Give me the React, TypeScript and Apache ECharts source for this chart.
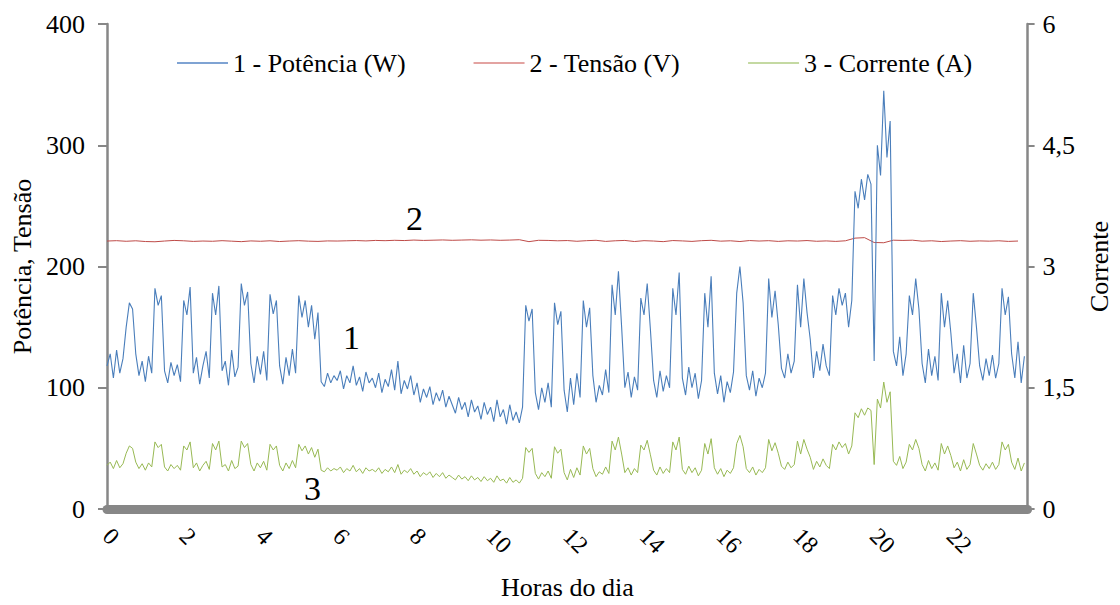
import React, { useEffect, useRef } from "react";
import * as echarts from "echarts";

// sampling intervals (hours)
const STEP_PC = 1 / 12; // power & current: every 5 min
const STEP_V = 0.25; // voltage: every 15 min

const hourTicks = [0, 2, 4, 6, 8, 10, 12, 14, 16, 18, 20, 22];
const leftTicks = [0, 100, 200, 300, 400];
const rightTicks = ["0", "1,5", "3", "4,5", "6"];

const seriesNames = ["1 - Potência (W)", "2 - Tensão (V)", "3 - Corrente (A)"];

// Potência (W)
const potencia = [
  118, 128, 108, 131, 112, 124, 150, 170, 165, 128, 110, 122,
  105, 126, 112, 182, 168, 176, 114, 104, 121, 110, 119, 105,
  172, 160, 183, 112, 125, 103, 118, 130, 108, 178, 160, 184,
  114, 122, 102, 131, 109, 117, 186, 168, 179, 120, 104, 126,
  111, 130, 106, 177, 161, 172, 118, 103, 125, 110, 132, 112,
  176, 158, 172, 150, 168, 140, 162, 105, 101, 112, 104, 110,
  106, 114, 99, 110, 104, 118, 102, 109, 97, 113, 104, 108,
  100, 112, 96, 107, 101, 115, 98, 122, 95, 106, 99, 110,
  94, 104, 88, 99, 92, 101, 86, 96, 89, 98, 84, 93,
  86, 79, 92, 82, 88, 76, 90, 80, 85, 74, 88, 78,
  84, 72, 90, 76, 82, 70, 86, 73, 80, 71, 84, 168,
  155, 165, 96, 82, 100, 88, 104, 84, 170, 152, 163, 98,
  80, 108, 86, 112, 92, 172, 150, 166, 110, 88, 102, 94,
  115, 96, 185, 160, 196, 150, 100, 113, 92, 109, 98, 174,
  160, 186, 148, 106, 92, 114, 97, 110, 100, 182, 160, 195,
  108, 94, 117, 100, 112, 91, 106, 178, 150, 192, 112, 95,
  110, 88, 105, 96, 113, 178, 200, 170, 110, 98, 114, 93,
  108, 100, 112, 190, 158, 180, 152, 116, 108, 128, 112, 122,
  185, 150, 190, 162, 140, 108, 130, 114, 136, 118, 110, 176,
  160, 182, 168, 178, 150, 172, 262, 248, 272, 255, 276, 268,
  122, 300, 275, 345, 290, 320, 130, 118, 142, 110, 128, 176,
  160, 190, 165, 120, 104, 132, 110, 126, 106, 178, 150, 172,
  145, 112, 128, 104, 135, 108, 120, 178, 150, 118, 106, 124,
  110, 127, 108, 120, 182, 160, 175, 128, 108, 138, 104, 126,
];

// Corrente (A)
const corrente = [
  0.54, 0.58, 0.5, 0.6, 0.51, 0.56, 0.69, 0.78, 0.75, 0.58, 0.5, 0.56,
  0.48, 0.57, 0.52, 0.83, 0.76, 0.8, 0.52, 0.47, 0.55, 0.5, 0.54, 0.48,
  0.78, 0.73, 0.83, 0.51, 0.57, 0.47, 0.54, 0.59, 0.49, 0.81, 0.73, 0.84,
  0.52, 0.55, 0.47, 0.6, 0.5, 0.53, 0.84, 0.76, 0.81, 0.55, 0.47, 0.57,
  0.51, 0.59, 0.48, 0.8, 0.73, 0.78, 0.54, 0.47, 0.57, 0.5, 0.6, 0.51,
  0.8, 0.72, 0.78, 0.68, 0.76, 0.64, 0.74, 0.48, 0.46, 0.51, 0.47, 0.5,
  0.48, 0.52, 0.45, 0.5, 0.47, 0.54, 0.46, 0.5, 0.44, 0.51, 0.47, 0.49,
  0.46, 0.51, 0.44, 0.49, 0.46, 0.52, 0.45, 0.55, 0.43, 0.48, 0.45, 0.5,
  0.43, 0.47, 0.4, 0.45, 0.42, 0.46, 0.39, 0.44, 0.4, 0.45, 0.38, 0.42,
  0.39, 0.36, 0.42, 0.37, 0.4, 0.35, 0.41, 0.36, 0.39, 0.34, 0.4, 0.35,
  0.38, 0.33, 0.41, 0.35, 0.37, 0.32, 0.39, 0.33, 0.36, 0.32, 0.38, 0.76,
  0.7, 0.75, 0.44, 0.37, 0.45, 0.4, 0.47, 0.38, 0.77, 0.69, 0.74, 0.45,
  0.36, 0.49, 0.39, 0.51, 0.42, 0.78, 0.68, 0.75, 0.5, 0.4, 0.46, 0.43,
  0.52, 0.44, 0.84, 0.73, 0.89, 0.68, 0.45, 0.51, 0.42, 0.5, 0.45, 0.79,
  0.73, 0.85, 0.67, 0.48, 0.42, 0.52, 0.44, 0.5, 0.45, 0.83, 0.73, 0.89,
  0.49, 0.43, 0.53, 0.45, 0.51, 0.41, 0.48, 0.81, 0.68, 0.87, 0.51, 0.43,
  0.5, 0.4, 0.48, 0.44, 0.51, 0.81, 0.91, 0.77, 0.5, 0.45, 0.52, 0.42,
  0.49, 0.45, 0.51, 0.86, 0.72, 0.82, 0.69, 0.53, 0.49, 0.58, 0.51, 0.55,
  0.84, 0.68, 0.86, 0.74, 0.64, 0.49, 0.59, 0.52, 0.62, 0.54, 0.5, 0.8,
  0.73, 0.83, 0.76, 0.81, 0.68, 0.78, 1.19, 1.13, 1.24, 1.16, 1.25, 1.22,
  0.55, 1.36, 1.25, 1.57, 1.32, 1.45, 0.59, 0.54, 0.65, 0.5, 0.58, 0.8,
  0.73, 0.86, 0.75, 0.55, 0.47, 0.6, 0.5, 0.57, 0.48, 0.81, 0.68, 0.78,
  0.66, 0.51, 0.58, 0.47, 0.61, 0.49, 0.55, 0.81, 0.68, 0.54, 0.48, 0.56,
  0.5, 0.58, 0.49, 0.55, 0.83, 0.73, 0.8, 0.58, 0.49, 0.63, 0.47, 0.57,
];

// Tensão (V)
const tensao = [
  221.0, 221.3, 220.8, 221.2, 220.6, 220.4, 221.0, 221.5, 221.2, 220.7, 221.0, 220.8,
  221.3, 220.9, 220.5, 221.1, 220.8, 221.2, 220.6, 221.0, 221.3, 220.9, 220.7, 221.1,
  221.0, 221.2, 221.4, 221.1, 221.5, 221.3, 221.6, 221.4, 221.8, 221.5, 221.7, 221.9,
  221.6, 221.8, 222.0, 221.7, 221.9, 221.6, 221.8, 222.1, 220.5, 221.6, 221.5, 221.2,
  221.4, 220.8, 221.3, 221.6, 220.7, 221.2, 221.5, 220.6, 221.3, 221.0, 220.5, 221.4,
  221.1, 220.7, 221.3, 221.6, 220.9, 221.2, 220.6, 221.4, 221.0, 221.3, 220.7, 221.2,
  221.0, 221.4, 220.8, 221.1, 220.7, 221.2, 223.4, 223.8, 219.8, 219.6, 221.7, 221.5,
  221.7, 220.9, 221.2, 220.6, 221.0, 221.3, 220.8, 221.1, 220.9, 221.2, 220.7, 221.0,
];

const FONT = "Liberation Serif";
const AXIS_GRAY = "#878787";
const W = 1120;
const H = 605;

export default function App() {
  const ref = useRef<HTMLDivElement>(null);

  useEffect(() => {
    if (!ref.current) return;
    document.body.style.margin = "0";
    const chart = echarts.init(ref.current, undefined, { renderer: "svg", width: W, height: H });

    const pData = potencia.map((v, i) => [i * STEP_PC, v]);
    const cData = corrente.map((v, i) => [i * STEP_PC, v]);
    const vData = tensao.map((v, i) => [i * STEP_V, v]);

    const txt = { fontFamily: FONT, color: "#000" };

    chart.setOption({
      animation: false,
      backgroundColor: "#ffffff",
      textStyle: { fontFamily: FONT, color: "#000" },
      grid: { left: 107, right: 78, top: 24, bottom: 91, containLabel: false },
      legend: {
        data: seriesNames.map((n) => ({ name: n, icon: "rect" })),
        left: 172,
        top: 45,
        itemWidth: 51,
        itemHeight: 2,
        itemGap: 68,
        textStyle: { ...txt, fontSize: 26 },
      },
      xAxis: {
        type: "value",
        min: 0,
        max: 24,
        interval: 2,
        offset: 3,
        name: "Horas do dia",
        nameLocation: "middle",
        nameGap: 62,
        nameTextStyle: { ...txt, fontSize: 26 },
        axisLine: { show: true, lineStyle: { color: AXIS_GRAY, width: 9 } },
        axisTick: { show: false },
        splitLine: { show: false },
        axisLabel: {
          rotate: -45,
          margin: 20,
          ...txt,
          fontSize: 24,
          formatter: (v: number) => (hourTicks.includes(v) ? String(v) : ""),
        },
      },
      yAxis: [
        {
          type: "value",
          min: 0,
          max: 400,
          interval: 100,
          name: "Potência, Tensão",
          nameLocation: "middle",
          nameGap: 72,
          nameTextStyle: { ...txt, fontSize: 26 },
          axisLine: { show: true, lineStyle: { color: AXIS_GRAY, width: 2.5 } },
          axisTick: { show: true, inside: false, length: 9, lineStyle: { color: AXIS_GRAY, width: 2 } },
          splitLine: { show: false },
          axisLabel: {
            margin: 22,
            ...txt,
            fontSize: 26,
            formatter: (v: number) => (leftTicks.includes(v) ? String(v) : ""),
          },
        },
        {
          type: "value",
          min: 0,
          max: 6,
          interval: 1.5,
          position: "right",
          name: "Corrente",
          nameLocation: "middle",
          nameGap: 50,
          nameTextStyle: { ...txt, fontSize: 26 },
          axisLine: { show: true, lineStyle: { color: AXIS_GRAY, width: 2.5 } },
          axisTick: { show: true, inside: false, length: 7, lineStyle: { color: AXIS_GRAY, width: 2 } },
          splitLine: { show: false },
          axisLabel: {
            margin: 15,
            ...txt,
            fontSize: 26,
            formatter: (v: number) => rightTicks[Math.round(v / 1.5)] ?? "",
          },
        },
      ],
      series: [
        {
          name: seriesNames[0],
          type: "line",
          data: pData,
          yAxisIndex: 0,
          symbol: "none",
          color: "#7FA3D3",
          lineStyle: { width: 1.1, color: "#4A7EBB" },
          z: 3,
        },
        {
          name: seriesNames[1],
          type: "line",
          data: vData,
          yAxisIndex: 0,
          symbol: "none",
          color: "#E3A3A1",
          lineStyle: { width: 1, color: "#BE4B48" },
          z: 2,
        },
        {
          name: seriesNames[2],
          type: "line",
          data: cData,
          yAxisIndex: 1,
          symbol: "none",
          color: "#C4D9A2",
          lineStyle: { width: 1, color: "#98B954" },
          z: 2,
        },
      ],
      graphic: [
        { type: "text", left: 343, top: 320, style: { text: "1", font: `34px ${FONT}`, fill: "#000" } },
        { type: "text", left: 406, top: 201, style: { text: "2", font: `34px ${FONT}`, fill: "#000" } },
        { type: "text", left: 304, top: 471, style: { text: "3", font: `34px ${FONT}`, fill: "#000" } },
      ],
    });

    return () => chart.dispose();
  }, []);

  return <div ref={ref} style={{ position: "fixed", left: 0, top: 0, width: W, height: H }} />;
}
